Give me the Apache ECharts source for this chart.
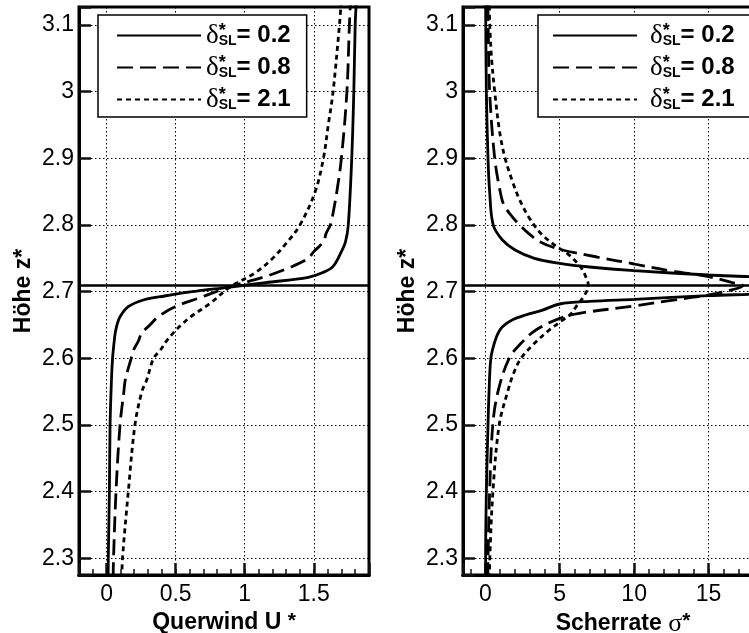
<!DOCTYPE html>
<html>
<head>
<meta charset="utf-8">
<title>Querwind und Scherrate</title>
<script src="https://cdn.jsdelivr.net/npm/echarts@6/dist/echarts.min.js"></script>
<style>
  html, body { margin: 0; padding: 0; background: #fff; }
  #chart { width: 749px; height: 633px; }
</style>
</head>
<body>
<div id="chart"></div>
<script>
  // Schichtdicken delta*_SL der drei Profile
  var deltaSL = ['0.2', '0.8', '2.1'];
  // Lage der Scherschicht (durchgezogene Horizontale)
  var shearLayerZ = 2.709;

  // Querwind U* ueber Hoehe z*, Paare [U*, z*]
  var windSolid = [[0.011,2.27],[0.012,2.3],[0.02,2.4],[0.025,2.5],[0.035,2.5675],[0.043,2.6],[0.052,2.62],
    [0.062,2.6375],[0.075,2.65],[0.097,2.6625],[0.157,2.6775],[0.266,2.6875],[0.42,2.6935],[0.62,2.7],
    [0.88,2.7065],[1.15,2.7135],[1.46,2.7215],[1.57,2.729],[1.64,2.738],[1.7,2.76],[1.73,2.775],[1.75,2.8],
    [1.775,2.9],[1.79,3.0],[1.8,3.1],[1.807,3.13]];
  var windDashed = [[0.047,2.27],[0.05,2.3],[0.068,2.4],[0.097,2.5],[0.125,2.55],[0.135,2.5675],[0.178,2.6],
    [0.195,2.6125],[0.228,2.625],[0.254,2.6375],[0.313,2.65],[0.374,2.6625],[0.495,2.6775],[0.664,2.69],
    [0.88,2.7065],[1.147,2.7225],[1.34,2.7375],[1.46,2.75],[1.5,2.76],[1.57,2.775],[1.59,2.7875],[1.62,2.8],
    [1.635,2.8125],[1.667,2.85],[1.7,2.9],[1.74,3.0],[1.758,3.1],[1.765,3.13]];
  var windDotted = [[0.11,2.27],[0.115,2.3],[0.157,2.4],[0.205,2.5],[0.255,2.55],[0.29,2.5675],[0.34,2.6],
    [0.39,2.6125],[0.43,2.625],[0.48,2.6375],[0.54,2.65],[0.61,2.6625],[0.75,2.6825],[0.89,2.7065],
    [1.07,2.7275],[1.19,2.7475],[1.3,2.7725],[1.4,2.8],[1.51,2.85],[1.57,2.9],[1.605,2.95],[1.64,3.0],
    [1.686,3.1],[1.697,3.13]];

  // Scherrate sigma* ueber Hoehe z*, Paare [sigma*, z*]
  var shearSolid = [[0.02,2.27],[0.02,2.3],[0.07,2.4],[0.18,2.5],[0.25,2.55],[0.37,2.6],[0.6,2.6225],
    [0.85,2.6375],[1.15,2.6475],[1.8,2.6575],[2.7,2.665],[3.8,2.672],[5.0,2.6815],[7.0,2.6855],[10.0,2.6885],
    [15.0,2.694],[17.7,2.696],[23,2.7],[30,2.709],[24,2.716],[17.7,2.7225],[15.0,2.725],[10.0,2.7315],
    [7.0,2.737],[5.0,2.7425],[3.3,2.75],[2.0,2.7625],[1.15,2.7775],[0.53,2.8],[0.29,2.85],[0.18,2.9],
    [0.07,3.0],[0.03,3.1],[0.02,3.13]];
  var shearDashed = [[0.17,2.27],[0.18,2.3],[0.29,2.4],[0.5,2.5],[0.85,2.55],[1.6,2.6],[2.4,2.6225],
    [3.4,2.6425],[5.0,2.66],[6.3,2.6675],[10.0,2.6785],[12.5,2.687],[15.0,2.695],[16.6,2.703],[17.3,2.709],
    [16.6,2.7135],[15.0,2.7225],[12.5,2.731],[10.0,2.7415],[7.5,2.752],[5.0,2.7635],[3.65,2.775],
    [2.9,2.7875],[2.3,2.8],[1.8,2.8125],[1.25,2.83],[1.0,2.85],[0.63,2.9],[0.29,3.0],[0.19,3.1],[0.17,3.13]];
  var shearDotted = [[0.28,2.27],[0.3,2.3],[0.51,2.4],[0.93,2.5],[1.5,2.55],[1.9,2.5775],[2.4,2.6],
    [3.3,2.6225],[4.3,2.6425],[5.2,2.6575],[5.8,2.6675],[6.1,2.6775],[6.6,2.6925],[6.9,2.705],[6.92,2.709],
    [6.84,2.7175],[6.39,2.7375],[5.5,2.7575],[5.1,2.763],[4.5,2.7725],[3.7,2.788],[2.9,2.8125],[2.3,2.838],
    [1.86,2.863],[1.33,2.9],[0.96,2.94],[0.63,3.0],[0.42,3.05],[0.3,3.1],[0.27,3.13]];

  var lineTypes = ['solid', [16, 7], [5, 4]];
  var fontSans = 'Liberation Sans';
  var fontSerif = 'Liberation Serif';
  var tickColor = '#111';

  var myChart = echarts.init(document.getElementById('chart'));

  function gridCfg(left, width) {
    return {
      left: left, top: 7, width: width, height: 568,
      outerBoundsMode: 'none', containLabel: false,
      show: true, borderColor: '#000', borderWidth: 3, backgroundColor: 'transparent'
    };
  }

  function tickLabel(step) {
    return function (v) {
      var k = Math.round(v / step);
      if (Math.abs(v / step - k) > 1e-6) return '';
      return String(Math.round(k * step * 10) / 10);
    };
  }

  var frameLine = { show: true, onZero: false, lineStyle: { color: '#000', width: 3 } };

  // Hauptachse mit Beschriftung, Gitter und langen Ticks
  function xMain(gridIndex, min, max, step, name) {
    return {
      type: 'value', gridIndex: gridIndex, min: min, max: max, splitNumber: 4,
      name: name, nameLocation: 'middle', nameGap: 30,
      nameTextStyle: {
        fontFamily: fontSans, fontSize: 23, fontWeight: 'bold', color: '#000',
        rich: {
          sg: { fontFamily: fontSerif, fontSize: 26, fontWeight: 'normal', color: '#000' },
          st: { fontFamily: fontSans, fontSize: 21, fontWeight: 'bold', color: '#000', verticalAlign: 'top', lineHeight: 16 }
        }
      },
      axisLine: frameLine,
      axisTick: { show: true, inside: true, length: 12, lineStyle: { color: tickColor, width: 2.5 } },
      axisLabel: { margin: 8, fontFamily: fontSans, fontSize: 23, color: '#000', formatter: tickLabel(step) },
      splitLine: { show: true, lineStyle: { color: '#000', width: 1, type: [1.5, 2.5] } }
    };
  }

  // zweite Achse nur fuer die kurzen Zwischenticks
  function xMinor(gridIndex, min, max, n) {
    return {
      type: 'value', gridIndex: gridIndex, min: min, max: max, splitNumber: n, position: 'bottom',
      axisLine: frameLine,
      axisTick: { show: true, inside: true, length: 6, lineStyle: { color: tickColor, width: 1.5 } },
      axisLabel: { show: false },
      splitLine: { show: false }
    };
  }

  function yAxisCfg(gridIndex) {
    return {
      type: 'value', gridIndex: gridIndex, min: 2.275, max: 3.127, splitNumber: 8,
      name: 'Höhe z*', nameLocation: 'middle', nameGap: 44, nameRotate: 90,
      nameTextStyle: { fontFamily: fontSans, fontSize: 23, fontWeight: 'bold', color: '#000' },
      axisLine: frameLine,
      axisTick: { show: true, inside: true, length: 12, lineStyle: { color: tickColor, width: 2.5 } },
      axisLabel: { margin: 5, fontFamily: fontSans, fontSize: 23, color: '#000', formatter: tickLabel(0.1) },
      splitLine: { show: true, lineStyle: { color: '#000', width: 1, type: [1.5, 2.5] } }
    };
  }

  function legendCfg(left, textPad) {
    return {
      orient: 'vertical', left: left, top: 15,
      padding: [7, 16, 4, textPad === 0 ? 18 : 14],
      itemWidth: 84, itemHeight: 14, itemGap: 5,
      backgroundColor: '#fff', borderColor: '#000', borderWidth: 1.5,
      data: deltaSL,
      itemStyle: { opacity: 0 },
      formatter: function (name) {
        return '{d|δ}{st|*}{sl|SL}{v|= ' + name + '}';
      },
      textStyle: {
        color: '#000',
        rich: {
          d: { fontFamily: fontSerif, fontSize: 27, lineHeight: 26, color: '#000', padding: [0, 0, 0, textPad] },
          st: { fontFamily: fontSans, fontSize: 18, fontWeight: 'bold', color: '#000', width: 0, lineHeight: 12, verticalAlign: 'top' },
          sl: { fontFamily: fontSans, fontSize: 14, fontWeight: 'bold', color: '#000', lineHeight: 12, verticalAlign: 'bottom' },
          v: { fontFamily: fontSans, fontSize: 24, fontWeight: 'bold', color: '#000', lineHeight: 26 }
        }
      }
    };
  }

  function curve(name, data, xIdx, yIdx, k, withLine) {
    var s = {
      name: name, type: 'line', xAxisIndex: xIdx, yAxisIndex: yIdx, data: data,
      symbol: 'none', smooth: 0.35, clip: true,
      lineStyle: { color: '#000', width: 2.8, type: lineTypes[k] }
    };
    if (withLine) {
      s.markLine = {
        silent: true, symbol: 'none', label: { show: false },
        lineStyle: { color: '#000', type: 'solid', width: 2.5 },
        data: [{ yAxis: shearLayerZ }]
      };
    }
    return s;
  }

  var option = {
    animation: false,
    grid: [gridCfg(79, 290), gridCfg(463, 320)],
    xAxis: [
      xMain(0, -0.2, 1.9, 0.5, 'Querwind U {st|*}'),
      xMain(1, -1.5, 20, 5, 'Scherrate {sg|σ}{st|*}'),
      xMinor(0, -0.2, 1.9, 21),
      xMinor(1, -1.5, 20, 21)
    ],
    yAxis: [yAxisCfg(0), yAxisCfg(1)],
    legend: [legendCfg(98, 0), legendCfg(538, 8)],
    series: [
      curve(deltaSL[0], windSolid, 0, 0, 0, true),
      curve(deltaSL[1], windDashed, 0, 0, 1, false),
      curve(deltaSL[2], windDotted, 0, 0, 2, false),
      curve(deltaSL[0], shearSolid, 1, 1, 0, true),
      curve(deltaSL[1], shearDashed, 1, 1, 1, false),
      curve(deltaSL[2], shearDotted, 1, 1, 2, false)
    ]
  };

  myChart.setOption(option);
</script>
</body>
</html>
